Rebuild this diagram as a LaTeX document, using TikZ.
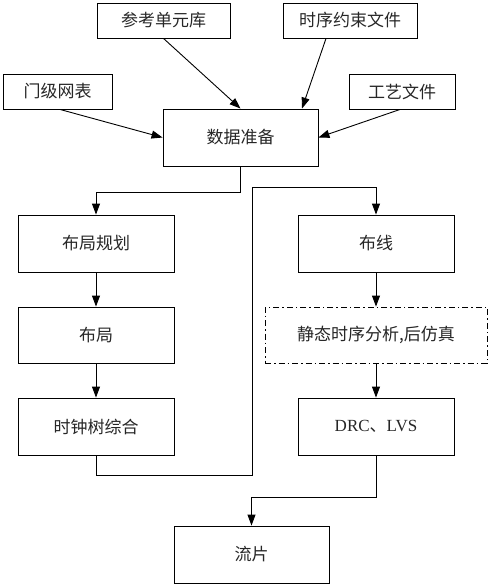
\documentclass[tikz,border=0pt]{standalone}
\usepackage{fontspec}
\setmainfont{Liberation Serif}
\newfontfamily\cjk{Noto Sans CJK SC}
\usetikzlibrary{arrows.meta}
\begin{document}
\begin{tikzpicture}[x=1pt,y=-1pt,
  box/.style={draw, line width=0.9pt, inner sep=0pt, align=center,
    font=\cjk\fontsize{17}{20}\selectfont, text=black!85},
  arr/.style={line width=0.9pt, -{Triangle[length=11pt,width=8pt]}},
  ln/.style={line width=0.9pt}]
\useasboundingbox (0,0) rectangle (491,587);
\node[box, minimum width=133pt, minimum height=35pt] (ref) at (163.5,20.5) {参考单元库};
\node[box, minimum width=134pt, minimum height=35pt] (tim) at (350,20.5) {时序约束文件};
\node[box, minimum width=109pt, minimum height=35pt] (net) at (57.5,91.5) {门级网表};
\node[box, minimum width=106pt, minimum height=35pt] (tech) at (402,91.5) {工艺文件};
\node[box, minimum width=155pt, minimum height=57pt] (data) at (240.5,137.5) {数据准备};
\node[box, minimum width=156pt, minimum height=57pt] (fp) at (96,243.5) {布局规划};
\node[box, minimum width=156pt, minimum height=57pt] (route) at (376,243.5) {布线};
\node[box, minimum width=156pt, minimum height=56pt] (place) at (96,335) {布局};
\node[box, minimum width=222pt, minimum height=56pt, dash pattern=on 6pt off 3pt on 1.5pt off 3pt] (sta) at (376,335) {静态时序分析,后仿真};
\node[box, minimum width=156pt, minimum height=57pt] (cts) at (96,426.5) {时钟树综合};
\node[box, minimum width=156pt, minimum height=57pt] (drc) at (376,426.5) {\rmfamily DRC\cjk 、\rmfamily LVS};
\node[box, minimum width=155pt, minimum height=57pt] (tape) at (251.5,554.5) {流片};
\coordinate (c1) at (252,475);
\coordinate (c2) at (252,187);
% inputs
\draw[arr] (ref.south) -- (data.north);
\draw[arr] ([xshift=-24pt]tim.south) -- ([xshift=61.5pt]data.north);
\draw[arr] ([xshift=2.5pt]net.south) -- (data.west);
\draw[arr] ([xshift=-2pt]tech.south) -- (data.east);
% flow
\draw[arr] (data.south) -- ++(0,26) -| (fp.north);
\draw[arr] (fp) -- (place);
\draw[arr] (place) -- (cts);
\draw[arr] (cts.south) |- (c1) -- (c2) -| (route.north);
\draw[arr] (route) -- (sta);
\draw[arr] (sta) -- (drc);
\draw[arr] (drc.south) -- ++(0,42) -| (tape.north);
\end{tikzpicture}
\end{document}
